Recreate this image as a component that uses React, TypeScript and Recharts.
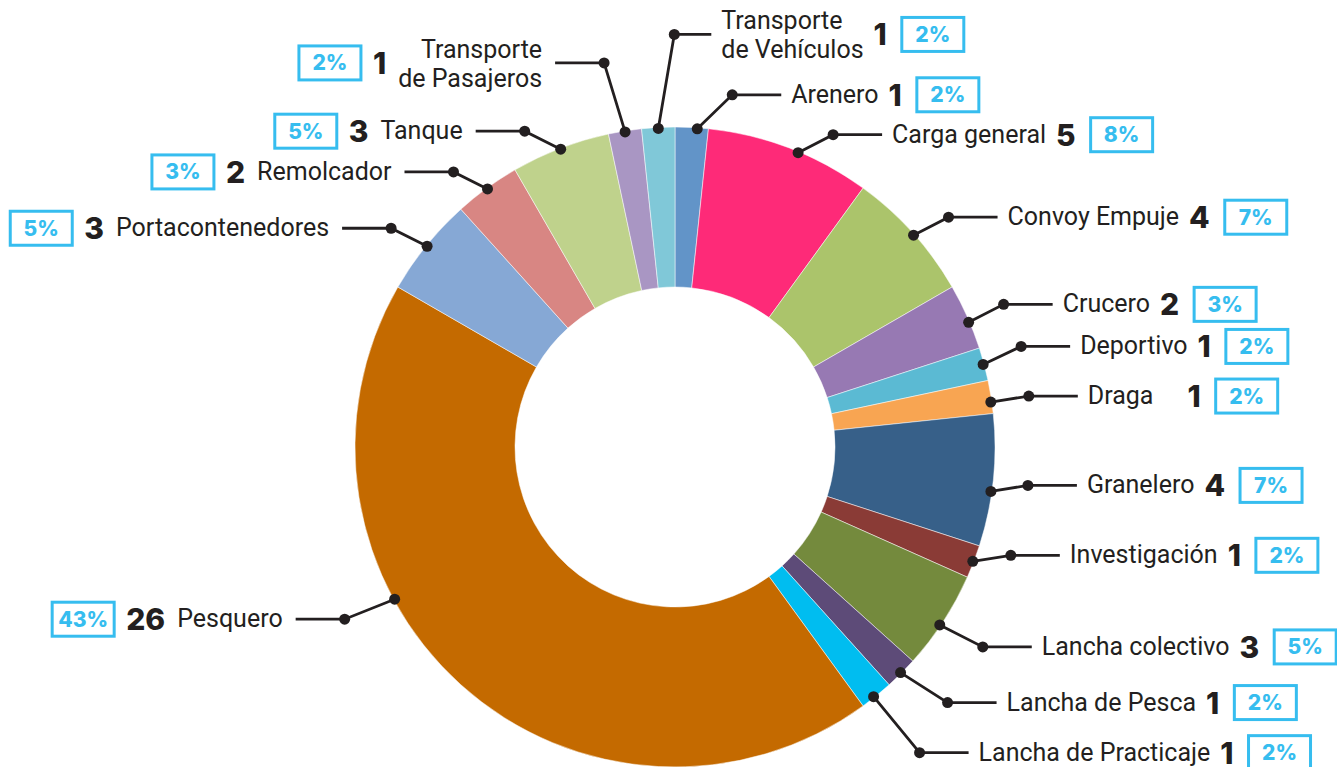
import { Pie, PieChart, Cell, type PieLabelRenderProps } from "recharts";

const CATEGORIES = [
  "Arenero",
  "Carga general",
  "Convoy Empuje",
  "Crucero",
  "Deportivo",
  "Draga",
  "Granelero",
  "Investigación",
  "Lancha colectivo",
  "Lancha de Pesca",
  "Lancha de Practicaje",
  "Pesquero",
  "Portacontenedores",
  "Remolcador",
  "Tanque",
  "Transporte de Pasajeros",
  "Transporte de Vehículos",
];

const COUNTS = [1, 5, 4, 2, 1, 1, 4, 1, 3, 1, 1, 26, 3, 2, 3, 1, 1];

const COLORS = [
  "#6294c8",
  "#fe2a78",
  "#abc46b",
  "#9779b3",
  "#5bbad3",
  "#f8a552",
  "#376089",
  "#8a3b36",
  "#748a3d",
  "#5d4b78",
  "#00bdf0",
  "#c46a00",
  "#86a8d5",
  "#d88683",
  "#bfd28c",
  "#a996c3",
  "#80c8d8",
];

// leader layout: elbow offset from the slice anchor, optional line length,
// extra gap before the count and angular nudge of the anchor (degrees)
type Leader = { dx: number; dy: number; len?: number; gap?: number; shift?: number };
const LEADERS: Leader[] = [
  { dx: 35, dy: -34, shift: -1 },
  { dx: 35, dy: -18, shift: -1.7 },
  { dx: 35, dy: -18, shift: -0.4 },
  { dx: 35, dy: -18, shift: -1 },
  { dx: 38, dy: -18 },
  { dx: 38, dy: -6, gap: 24, shift: -0.9 },
  { dx: 37, dy: -6, shift: -2 },
  { dx: 38, dy: -6 },
  { dx: 43, dy: 22, shift: -0.9 },
  { dx: 47, dy: 30 },
  { dx: 46, dy: 56, shift: -0.5 },
  { dx: -50, dy: 20, shift: -19.5 },
  { dx: -36, dy: -18 },
  { dx: -34, dy: -17 },
  { dx: -36, dy: -18 },
  { dx: -21, dy: -69 },
  { dx: 16, dy: -94, len: 37 },
];

const RADIAN = Math.PI / 180;
const INK = "#231f20";
const CYAN = "#36bdef";
const NAME_FONT = "400 25px Roboto";
const COUNT_FONT = "800 30px Inter";
const PCT_FONT = "800 21px Inter";

const total = COUNTS.reduce((s, v) => s + v, 0);
const data = CATEGORIES.map((name, i) => ({ name, value: COUNTS[i] }));

let ctx: CanvasRenderingContext2D | null = null;
const textWidth = (t: string, font: string) => {
  if (!ctx) ctx = document.createElement("canvas").getContext("2d");
  if (!ctx) return t.length * 12;
  ctx.font = font;
  return ctx.measureText(t).width;
};

const splitName = (name: string) =>
  name.startsWith("Transporte ") ? ["Transporte", name.slice(11)] : [name];

const renderLabel = (props: PieLabelRenderProps) => {
  const { cx, cy, midAngle, outerRadius, index } = props;
  const i = index ?? 0;
  const lay = LEADERS[i];
  const ncx = Number(cx);
  const ncy = Number(cy);
  const r = Number(outerRadius) - 1;
  const ang = ((midAngle ?? 0) + (lay.shift ?? 0)) * RADIAN;
  const ax = ncx + r * Math.cos(-ang);
  const ay = ncy + r * Math.sin(-ang);
  const ex = ax + lay.dx;
  const ey = ay + lay.dy;
  const right = lay.dx > 0;
  const len = lay.len ?? 49;
  const lx = right ? ex + len : ex - len;

  const lines = splitName(CATEGORIES[i]);
  const nameW = Math.max(...lines.map((l) => textWidth(l, NAME_FONT)));
  const count = String(COUNTS[i]);
  const countW = textWidth(count, COUNT_FONT);
  const pct = `${Math.round((COUNTS[i] / total) * 100)}%`;

  let nameX: number, countX: number, boxX: number;
  if (right) {
    nameX = lx + 10;
    countX = nameX + nameW + 10 + (lay.gap ?? 0);
    boxX = countX + countW + 15;
  } else {
    nameX = lx - 13;
    countX = nameX - nameW - 12 - countW;
    boxX = countX - 12 - 62;
  }
  const baselines = lines.length > 1 ? [ey - 5, ey + 24] : [ey + 8];

  return (
    <g>
      <polyline
        points={`${ax},${ay} ${ex},${ey} ${lx},${ey}`}
        fill="none"
        stroke={INK}
        strokeWidth={2.8}
      />
      <circle cx={ax} cy={ay} r={5.5} fill={INK} />
      <circle cx={ex} cy={ey} r={5.5} fill={INK} />
      {lines.map((l, k) => (
        <text
          key={k}
          x={nameX}
          y={baselines[k]}
          textAnchor={right ? "start" : "end"}
          fill={INK}
          style={{ font: NAME_FONT }}
        >
          {l}
        </text>
      ))}
      <text x={countX} y={ey + 11} fill={INK} style={{ font: COUNT_FONT }}>
        {count}
      </text>
      <rect
        x={boxX}
        y={ey - 17}
        width={62}
        height={34}
        fill="#fff"
        stroke={CYAN}
        strokeWidth={3}
      />
      <text
        x={boxX + 31}
        y={ey + 7.5}
        textAnchor="middle"
        fill={CYAN}
        style={{ font: PCT_FONT }}
      >
        {pct}
      </text>
    </g>
  );
};

export default function App() {
  return (
    <div style={{ position: "absolute", left: 0, top: 0, width: 1337, height: 767, background: "#fff" }}>
      <PieChart width={1337} height={767} margin={{ top: 0, right: 0, bottom: 0, left: 0 }}>
        <Pie
          data={data}
          dataKey="value"
          nameKey="name"
          cx={675}
          cy={447}
          innerRadius={160}
          outerRadius={320}
          startAngle={90}
          endAngle={-270}
          stroke="#ffffff"
          strokeWidth={0.5}
          labelLine={false}
          label={renderLabel}
          isAnimationActive={false}
        >
          {data.map((d, i) => (
            <Cell key={d.name} fill={COLORS[i]} />
          ))}
        </Pie>
      </PieChart>
    </div>
  );
}
